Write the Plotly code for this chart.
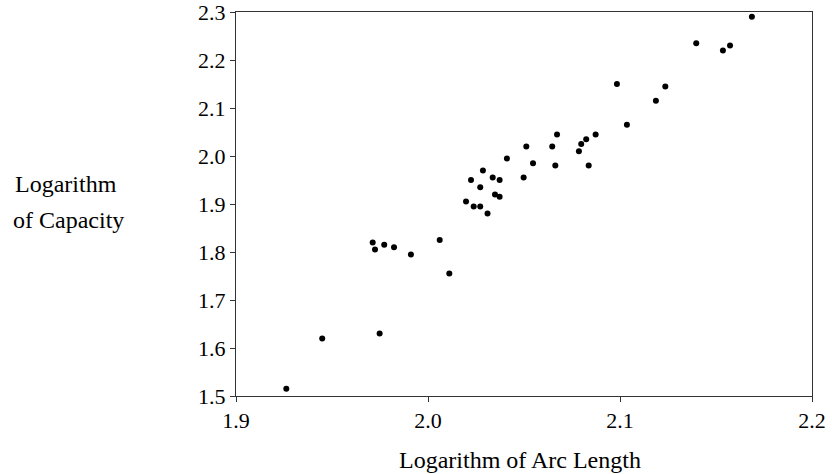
import plotly.graph_objects as go

log_arc_length = [
    2.1687, 2.1397, 2.1536, 2.1573, 2.0984, 2.1236, 2.1187, 2.1036,
    2.0873, 2.0824, 2.0798, 2.0786, 2.0837, 2.0672, 2.0647, 2.0663,
    2.0512, 2.0547, 2.0498, 2.0411, 2.0286, 2.0337, 2.0373, 2.0349,
    2.0373, 2.0272, 2.0224, 2.0198, 2.0238, 2.0272, 2.0310, 1.9712,
    1.9724, 1.9772, 1.9823, 1.9911, 2.0061, 2.0111, 1.9748, 1.9449,
    1.9262,
]
log_capacity = [
    2.290, 2.235, 2.220, 2.230, 2.150, 2.145, 2.115, 2.065,
    2.045, 2.035, 2.025, 2.010, 1.980, 2.045, 2.020, 1.980,
    2.020, 1.985, 1.955, 1.995, 1.970, 1.955, 1.950, 1.920,
    1.915, 1.935, 1.950, 1.905, 1.895, 1.895, 1.880, 1.820,
    1.805, 1.815, 1.810, 1.795, 1.825, 1.755, 1.630, 1.620,
    1.515,
]
x_ticks = [1.9, 2.0, 2.1, 2.2]
y_ticks = [1.5, 1.6, 1.7, 1.8, 1.9, 2.0, 2.1, 2.2, 2.3]

FONT = "Liberation Serif, Times New Roman, serif"
AX = "#333333"

fig = go.Figure()
fig.add_trace(go.Scatter(
    x=log_arc_length, y=log_capacity, mode="markers",
    marker=dict(color="black", size=6, line=dict(width=0)),
    showlegend=False, hoverinfo="x+y",
))

axis_common = dict(
    showgrid=False, zeroline=False, showline=True, linecolor=AX, linewidth=1,
    mirror=True, ticks="outside", ticklen=5, tickcolor=AX, tickwidth=1,
    tickfont=dict(family=FONT, size=22, color="black"), tickformat=".1f",
    automargin=False, ticklabeloverflow="allow",
)
fig.update_xaxes(range=[1.9, 2.2], tickvals=x_ticks, **axis_common)
fig.update_yaxes(range=[1.5, 2.3], tickvals=y_ticks, **axis_common)

fig.update_layout(
    width=832, height=474,
    margin=dict(l=236, r=20, t=12, b=78, pad=0),
    plot_bgcolor="white", paper_bgcolor="white",
    font=dict(family=FONT, color="black"),
    annotations=[
        dict(text="Logarithm of Arc Length", xref="paper", yref="paper",
             x=0.4936, y=-0.1676, xanchor="center", yanchor="middle",
             showarrow=False, font=dict(family=FONT, size=24, color="black")),
        dict(text="Logarithm", xref="paper", yref="paper",
             x=-0.2946, y=0.5517, xanchor="center", yanchor="middle",
             showarrow=False, font=dict(family=FONT, size=24, color="black")),
        dict(text="of Capacity", xref="paper", yref="paper",
             x=-0.291, y=0.458, xanchor="center", yanchor="middle",
             showarrow=False, font=dict(family=FONT, size=24, color="black")),
    ],
)

fig.write_html(
    "out.html",
    config=dict(displayModeBar=False),
    post_script="document.body.style.margin='0';document.body.style.overflow='hidden';",
)
